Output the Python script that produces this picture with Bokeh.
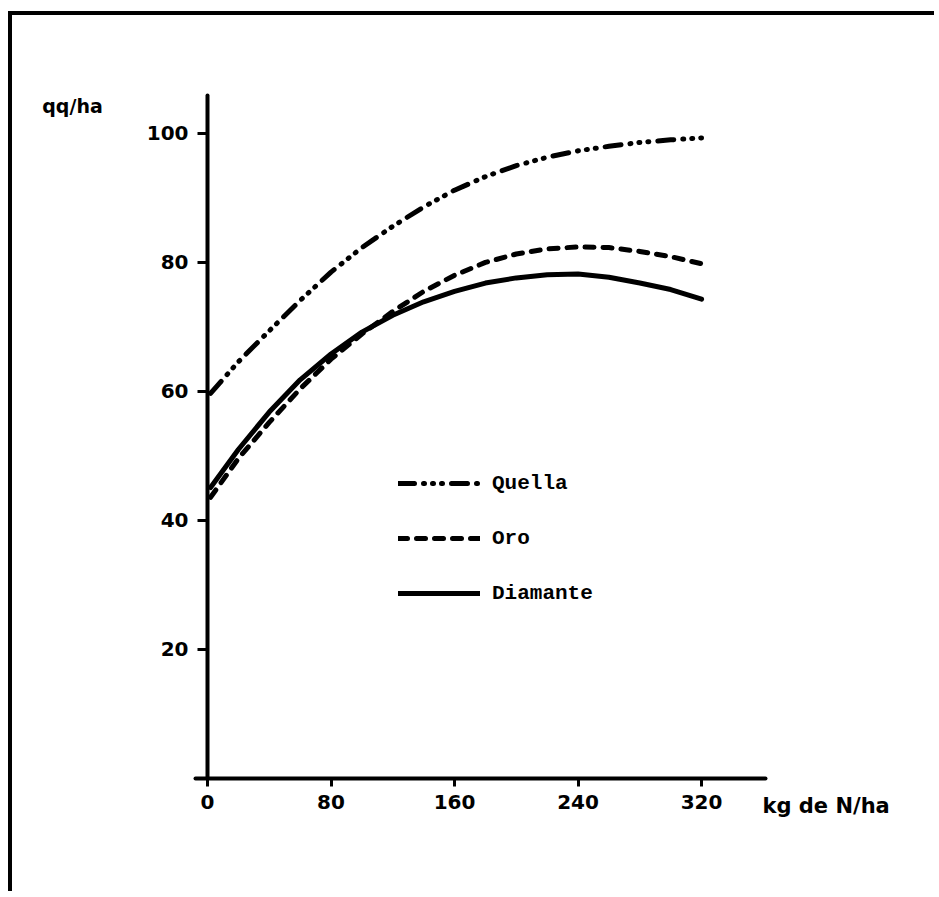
from bokeh.plotting import figure
from bokeh.models import Range1d, FixedTicker, Legend, LegendItem, Label
from bokeh.embed import file_html
from bokeh.resources import INLINE

# ---- data ----
nitrogen = [2, 20, 40, 60, 80, 100, 120, 140, 160, 180, 200, 220, 240, 260, 280, 300, 320]
quella = [59.7, 64.6, 69.4, 74.1, 78.5, 82.3, 85.6, 88.6, 91.2, 93.3, 95.0, 96.3, 97.3, 98.0, 98.6, 99.0, 99.3]
oro = [43.6, 49.6, 55.2, 60.4, 65.0, 68.9, 72.4, 75.5, 78.0, 80.0, 81.3, 82.1, 82.4, 82.3, 81.7, 80.9, 79.8]
diamante = [45.1, 51.0, 56.8, 61.8, 65.8, 69.2, 71.8, 73.9, 75.5, 76.8, 77.6, 78.1, 78.2, 77.7, 76.8, 75.8, 74.3]
series_names = ["Quella", "Oro", "Diamante"]
x_ticks = [0, 80, 160, 240, 320]
y_ticks = [20, 40, 60, 80, 100]
x_title = "kg de N/ha"
y_title = "qq/ha"

SANS = "DejaVu Sans"
MONO = "Liberation Mono"
INK = "#000000"

p = figure(width=926, height=880, output_backend="svg", toolbar_location=None,
           x_range=Range1d(-119.8, 470.2), y_range=Range1d(-17.36, 117.5),
           min_border_left=10, min_border_right=5, min_border_top=5, min_border_bottom=5)
p.styles = {"border-left": "4px solid #000", "border-top": "4px solid #000",
            "margin-left": "8px", "margin-top": "11px"}
p.outline_line_color = None
p.xgrid.visible = False
p.ygrid.visible = False
p.background_fill_color = "white"
p.border_fill_color = "white"

for ax in (p.xaxis[0], p.yaxis[0]):
    ax.fixed_location = 0
    ax.axis_line_width = 4
    ax.axis_line_color = INK
    ax.axis_line_cap = "round"
    ax.major_tick_line_width = 3
    ax.major_tick_line_color = INK
    ax.major_tick_in = 0
    ax.minor_tick_line_color = None
    ax.major_label_text_font = SANS
    ax.major_label_text_font_style = "bold"
    ax.major_label_text_font_size = "20px"
    ax.major_label_text_color = INK

p.xaxis[0].bounds = (-7.8, 361.4)
p.xaxis[0].ticker = FixedTicker(ticks=x_ticks)
p.xaxis[0].major_tick_out = 8
p.xaxis[0].major_label_standoff = 8

p.yaxis[0].bounds = (0, 105.9)
p.yaxis[0].ticker = FixedTicker(ticks=y_ticks)
p.yaxis[0].major_tick_out = 10
p.yaxis[0].major_label_standoff = 9

lw = 5
r_q = p.line(nitrogen, quella, line_width=lw, line_color=INK, line_cap="round",
             line_dash="16 9 1 8 1 8 1 9")
r_o = p.line(nitrogen, oro, line_width=lw, line_color=INK, line_cap="round",
             line_dash="9 9")
r_d = p.line(nitrogen, diamante, line_width=lw, line_color=INK, line_cap="round")

legend = Legend(items=[LegendItem(label=series_names[0], renderers=[r_q]),
                       LegendItem(label=series_names[1], renderers=[r_o]),
                       LegendItem(label=series_names[2], renderers=[r_d])],
                location=(376, 285), orientation="vertical",
                glyph_width=82, glyph_height=24, label_height=24, spacing=31,
                label_standoff=12, padding=0, margin=0,
                border_line_alpha=0, background_fill_alpha=0,
                label_text_font=MONO, label_text_font_style="bold",
                label_text_font_size="21px", label_text_color=INK)
p.add_layout(legend, "center")

p.add_layout(Label(x=-107, y=105.9, text=y_title, text_font=SANS, text_font_style="bold",
                   text_font_size="19px", text_color=INK, text_align="left",
                   text_baseline="top"))
p.add_layout(Label(x=361.4, y=0, x_offset=-3, y_offset=-15, text=x_title, text_font=SANS,
                   text_font_style="bold", text_font_size="21px", text_color=INK,
                   text_align="left", text_baseline="top"))

open("out.html", "w").write(file_html(p, INLINE))
